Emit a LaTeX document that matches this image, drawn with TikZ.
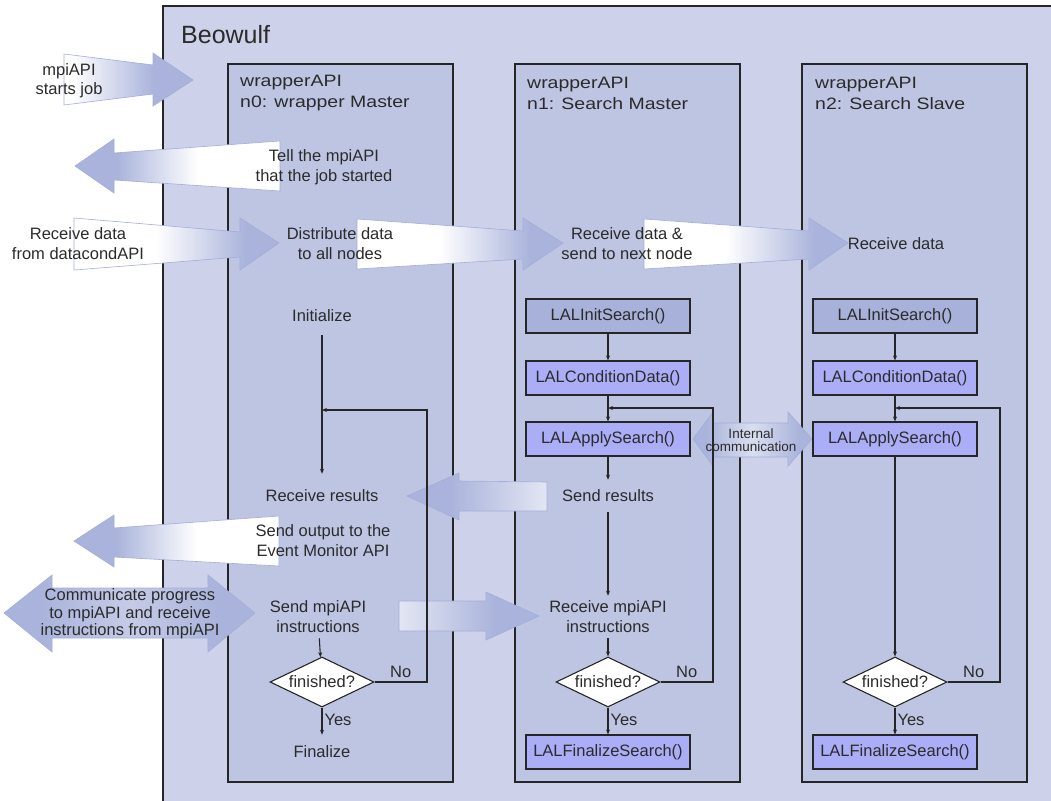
\documentclass[tikz,border=0pt]{standalone}
\usepackage{fontspec}
\setmainfont{Liberation Sans}
\newfontfamily\hdrfont[FakeStretch=1.18]{Liberation Sans}
\usetikzlibrary{arrows.meta, shapes.geometric}

\definecolor{beobg}{HTML}{CDD2EA}
\definecolor{colbg}{HTML}{BDC5E3}
\definecolor{initfill}{HTML}{A7B1D9}
\definecolor{lalfill}{HTML}{ABAEF6}
\definecolor{arrblue}{HTML}{A9B3DB}
\definecolor{arredge}{HTML}{A3ADD9}
\definecolor{arrpale}{HTML}{E3E6F3}
\definecolor{arrmid}{HTML}{DADEEF}
\definecolor{progmid}{HTML}{C5CBE7}
\definecolor{txt}{HTML}{2B2B2B}

\pgfdeclarehorizontalshading{fadeR}{100bp}{color(0bp)=(white); color(45bp)=(white); color(67bp)=(arrblue); color(100bp)=(arrblue)}
\pgfdeclarehorizontalshading{fadeRlong}{100bp}{color(0bp)=(white); color(28bp)=(white); color(60bp)=(arrblue); color(100bp)=(arrblue)}
\pgfdeclarehorizontalshading{fadeL}{100bp}{color(0bp)=(arrblue); color(35bp)=(arrblue); color(55bp)=(white); color(100bp)=(white)}
\pgfdeclarehorizontalshading{paleL}{100bp}{color(0bp)=(arrblue); color(40bp)=(arrblue); color(75bp)=(arrpale); color(100bp)=(arrpale)}
\pgfdeclarehorizontalshading{paleR}{100bp}{color(0bp)=(arrpale); color(25bp)=(arrpale); color(60bp)=(arrblue); color(100bp)=(arrblue)}
\pgfdeclarehorizontalshading{twowayA}{100bp}{color(0bp)=(arrblue); color(30bp)=(arrblue); color(50bp)=(arrmid); color(70bp)=(arrblue); color(100bp)=(arrblue)}
\pgfdeclarehorizontalshading{twowayB}{100bp}{color(0bp)=(arrblue); color(32bp)=(arrblue); color(50bp)=(progmid); color(68bp)=(arrblue); color(100bp)=(arrblue)}

\begin{document}
\begin{tikzpicture}[x=1pt, y=-1pt,
  every node/.style={font=\fontsize{16.5}{20}\selectfont, text=txt},
  lbl/.style={align=center, inner sep=5pt},
  hdr/.style={anchor=west, align=left, inner sep=0pt, font=\hdrfont\fontsize{16.5}{21}\selectfont},
  col/.style={draw=black!85, line width=1.3pt, fill=colbg},
  func/.style={draw=black!85, line width=1.1pt, minimum width=164pt, minimum height=34pt, inner sep=0pt},
  decide/.style={diamond, draw=black!85, line width=1.1pt, fill=white, minimum width=104pt, minimum height=50pt, inner sep=0pt, aspect=2},
  flow/.style={draw=black!85, line width=1.1pt, -{Stealth[length=5pt, width=4pt]}},
  bigarr/.style={draw=arredge, line width=0.6pt}]
  \useasboundingbox (0,0) rectangle (1051,800);
  \clip (0,0) rectangle (1051,800);
  \draw[draw=black!85, line width=1.4pt, fill=beobg] (163,6) rectangle (1070,820);
  \node[anchor=west, inner sep=0pt, font=\fontsize{25}{30}\selectfont] (beo) at (181,35) {Beowulf};
  \draw[col] (228,64) rectangle (453,782);
  \draw[col] (515,64) rectangle (740,782);
  \draw[col] (802,64) rectangle (1027,782);
  \node[hdr] (h0) at (240,93) {wrapperAPI\\n0: wrapper Master};
  \node[hdr] (h1) at (527,93) {wrapperAPI\\n1: Search Master};
  \node[hdr] (h2) at (815,93) {wrapperAPI\\n2: Search Slave};

  \shade[bigarr, shading=fadeRlong] (64,54) -- (153,65) -- (153,53) -- (193,80) -- (153,106) -- (153,94) -- (64,105) -- cycle;
  \shade[bigarr, shading=fadeL] (75,166) -- (114,139) -- (114,153) -- (280,141) -- (280,191) -- (114,180) -- (114,193) -- cycle;
  \shade[bigarr, shading=fadeR] (74,218) -- (240,232) -- (240,218) -- (279,243) -- (240,270) -- (240,257) -- (74,270) -- cycle;
  \shade[bigarr, shading=fadeR] (357,219) -- (523,231) -- (523,218) -- (563,243) -- (523,270) -- (523,259) -- (357,269) -- cycle;
  \shade[bigarr, shading=fadeR] (644,219) -- (809,231) -- (809,218) -- (848,243) -- (809,270) -- (809,259) -- (644,269) -- cycle;
  \shade[bigarr, shading=twowayA] (693,439) -- (713,412) -- (713,423) -- (788,423) -- (788,412) -- (812,439) -- (788,466) -- (788,457) -- (713,457) -- (713,466) -- cycle;
  \shade[bigarr, shading=paleL] (407,496) -- (459,473) -- (459,481) -- (547,482) -- (547,511) -- (459,511) -- (459,520) -- cycle;
  \shade[bigarr, shading=fadeL] (74,541) -- (114,515) -- (114,528) -- (279,516) -- (279,566) -- (114,557) -- (114,567) -- cycle;
  \shade[bigarr, shading=twowayB] (4,613) -- (52,575) -- (52,588) -- (208,588) -- (208,575) -- (255,613) -- (208,652) -- (208,638) -- (52,638) -- (52,652) -- cycle;
  \shade[bigarr, shading=paleR] (399,601) -- (486,601) -- (486,592) -- (539,616) -- (486,640) -- (486,631) -- (399,631) -- cycle;

  \node[lbl, font=\fontsize{16.5}{19}\selectfont] (start) at (69,81) {mpiAPI\\starts job};
  \node[lbl] (datain) at (78,244) {Receive data\\from datacondAPI};
  \node[lbl, font=\fontsize{16.5}{17.5}\selectfont] (prog) at (130,614) {Communicate progress\\to mpiAPI and receive\\instructions from mpiAPI};
  \node[lbl, font=\fontsize{13.5}{13.5}\selectfont, inner sep=0pt] (intc) at (751,440) {Internal\\communication};

  \node[lbl] (tell0) at (324,167) {Tell the mpiAPI\\that the job started};
  \node[lbl] (dist0) at (340,244) {Distribute data\\to all nodes};
  \node[lbl, inner ysep=13pt] (init0) at (322,316) {Initialize};
  \node[lbl, inner ysep=16pt] (recv0) at (322,496) {Receive results};
  \node[lbl] (out0) at (323,541) {Send output to the\\Event Monitor API};
  \node[lbl] (send0) at (318,617) {Send mpiAPI\\instructions};
  \node[decide] (fin0) at (322,682) {finished?};
  \node[lbl, inner ysep=11pt] (final0) at (322,752) {Finalize};

  \node[lbl] (recvd1) at (627,244) {Receive data \&\\send to next node};
  \node[func, fill=initfill] (initS1) at (608,316) {LALInitSearch()};
  \node[func, fill=lalfill] (cond1) at (608,378) {LALConditionData()};
  \node[func, fill=lalfill] (apply1) at (608,439) {LALApplySearch()};
  \node[lbl, inner ysep=10pt] (sres1) at (608,496) {Send results};
  \node[lbl] (rmpi1) at (608,617) {Receive mpiAPI\\instructions};
  \node[decide] (fin1) at (608,682) {finished?};
  \node[func, fill=lalfill] (final1) at (608,752) {LALFinalizeSearch()};

  \node[lbl] (recvd2) at (896,244) {Receive data};
  \node[func, fill=initfill] (initS2) at (895,316) {LALInitSearch()};
  \node[func, fill=lalfill] (cond2) at (895,378) {LALConditionData()};
  \node[func, fill=lalfill] (apply2) at (895,439) {LALApplySearch()};
  \node[decide] (fin2) at (895,682) {finished?};
  \node[func, fill=lalfill] (final2) at (895,752) {LALFinalizeSearch()};

  \coordinate (loop0) at (427,410);
  \coordinate (join0) at (322,410);
  \coordinate (loop1) at (713,408);
  \coordinate (join1) at (608,408);
  \coordinate (loop2) at (1000,408);
  \coordinate (join2) at (895,408);

  \draw[flow] (init0) -- (recv0);
  \draw[flow] (send0) -- (fin0);
  \draw[flow] (fin0) -- node[pos=0.45, right, inner sep=2pt] {Yes} (final0);
  \draw[flow] (fin0.east) -| node[pos=0.25, above] {No} (loop0) -- (join0);

  \draw[flow] (initS1) -- (cond1);
  \draw[flow] (cond1) -- (apply1);
  \draw[flow] (apply1) -- (sres1);
  \draw[flow] (sres1) -- (rmpi1);
  \draw[flow] (rmpi1) -- (fin1);
  \draw[flow] (fin1) -- node[pos=0.45, right, inner sep=2pt] {Yes} (final1);
  \draw[flow] (fin1.east) -| node[pos=0.25, above] {No} (loop1) -- (join1);

  \draw[flow] (initS2) -- (cond2);
  \draw[flow] (cond2) -- (apply2);
  \draw[flow] (apply2) -- (fin2);
  \draw[flow] (fin2) -- node[pos=0.45, right, inner sep=2pt] {Yes} (final2);
  \draw[flow] (fin2.east) -| node[pos=0.25, above] {No} (loop2) -- (join2);
\end{tikzpicture}
\end{document}
